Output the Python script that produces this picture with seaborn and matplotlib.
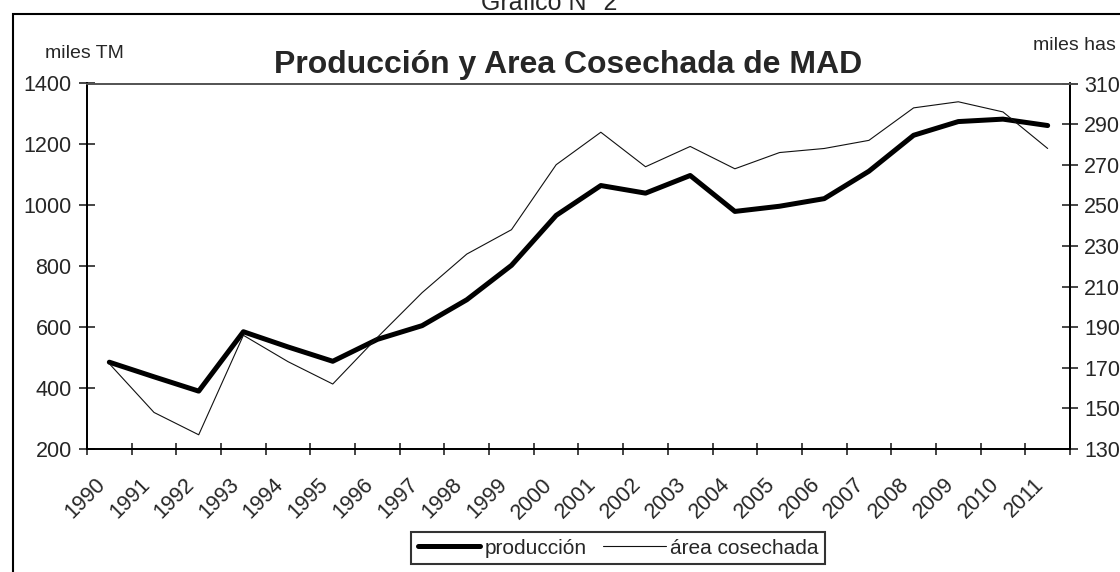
import numpy as np
import pandas as pd
import seaborn as sns
import matplotlib.pyplot as plt
from matplotlib.patches import Rectangle

# values
years = list(range(1990, 2012))
produccion = [485, 437, 390, 585, 535, 488, 560, 605, 690, 803, 967, 1065,
              1040, 1098, 980, 997, 1022, 1112, 1230, 1275, 1283, 1262]
area = [172, 148, 137, 186, 173, 162, 185, 207, 226, 238, 270, 286,
        269, 279, 268, 276, 278, 282, 298, 301, 296, 278]
left_ticks = list(range(200, 1401, 200))
right_ticks = list(range(130, 311, 20))

df = pd.DataFrame({'year': years, 'produccion': produccion, 'area': area})

sns.set_style('white')
plt.rcParams['font.family'] = ['Liberation Sans', 'DejaVu Sans']

W, H = 1120, 572
fig = plt.figure(figsize=(11.2, 5.72), dpi=100)
ax = fig.add_axes([87 / W, 1 - 449 / H, (1070 - 87) / W, (449 - 83.5) / H])
ax2 = ax.twinx()

sns.lineplot(data=df, x='year', y='produccion', ax=ax, color='black', lw=3.6, legend=False)
sns.lineplot(data=df, x='year', y='area', ax=ax2, color='#111111', lw=0.8, legend=False)
ax.lines[0].set_label('producción')
ax2.lines[0].set_label('área cosechada')

ax.set_xlim(1989.5, 2011.5)
ax.set_ylim(200, 1400)
ax2.set_ylim(130, 310)
ax.set_yticks(left_ticks)
ax2.set_yticks(right_ticks)
ax.set_xticks(years)
ax.set_xticklabels([str(y) for y in years], rotation=45, ha='right')
ax.set_xticks(np.arange(1989.5, 2012, 1), minor=True)
ax.set_xlabel('')
ax.set_ylabel('')
ax2.set_ylabel('')

fs = 15.5
ax.tick_params(axis='x', which='major', length=0, pad=18, labelsize=fs)
ax.tick_params(axis='x', which='minor', direction='inout', length=9, width=1.2, bottom=True)
ax.tick_params(axis='y', direction='inout', length=12, width=1.2, pad=5, labelsize=fs, left=True)
ax2.tick_params(axis='y', direction='inout', length=12, width=1.2, pad=4, labelsize=fs, right=True)

for a in (ax, ax2):
    for side in ['left', 'bottom', 'right']:
        a.spines[side].set_color('black')
        a.spines[side].set_linewidth(1.3)
    a.spines['top'].set_color('#555555')
    a.spines['top'].set_linewidth(1.3)

# outer chart border
fig.add_artist(Rectangle((12.5 / W, -0.1), 1.2, 1 - 13.6 / H + 0.1,
                         transform=fig.transFigure, fill=False, ec='black', lw=1.5))

fig.text(568 / W, 1 - 65 / H, 'Producción y Area Cosechada de MAD',
         fontsize=23, weight='bold', ha='center', va='center')
fig.text(45 / W, 1 - 54 / H, 'miles TM', fontsize=14, ha='left', va='center')
fig.text(1033 / W, 1 - 45 / H, 'miles has', fontsize=14, ha='left', va='center')
fig.text(549 / W, 1 - 10 / H, 'Gráfico N° 2', fontsize=18, ha='center', va='baseline')

handles = [ax.lines[0], ax2.lines[0]]
leg = fig.legend(handles, [h.get_label() for h in handles], loc='center',
                 bbox_to_anchor=(618 / W, 1 - 548 / H), ncol=2, fontsize=15,
                 frameon=True, fancybox=False, edgecolor='black',
                 handlelength=3, handletextpad=0.2, columnspacing=0.8,
                 borderpad=0.3, borderaxespad=0)
leg.get_frame().set_linewidth(1.5)

fig.savefig('out.png', dpi=100)
